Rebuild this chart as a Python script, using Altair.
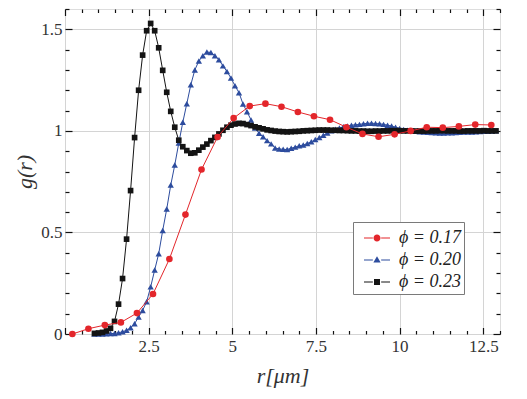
import altair as alt
import pandas as pd

# ---------------- data ----------------
r_dense = [round(0.04 + 0.12 * k, 2) for k in range(7, 108)]

g_black = [0.003, 0.005, 0.008, 0.015, 0.028,
           0.062, 0.147, 0.273, 0.467, 0.706, 0.967,
           1.20, 1.373, 1.493, 1.529, 1.493, 1.409,
           1.298, 1.19, 1.096, 1.018, 0.954, 0.922, 0.903, 0.89,
           0.892, 0.905, 0.92, 0.935, 0.952, 0.968, 0.985, 1.003, 1.018, 1.028,
           1.034, 1.037, 1.036, 1.031, 1.026, 1.02, 1.015, 1.01, 1.005, 1.002,
           0.999, 0.997, 0.996, 0.995, 0.996, 0.997, 0.998, 1.0, 1.001, 1.002, 1.003, 1.004, 1.004, 1.004,
           1.003, 1.003, 1.002, 1.002, 1.001, 1.0, 1.0, 0.999, 0.999, 0.998,
           0.998, 0.999, 0.999, 1.0, 1.0, 1.001, 1.001, 1.001, 1.0, 1.0,
           1.0, 0.999, 0.999, 0.999, 1.0, 1.0, 1.0, 1.001, 1.001, 1.0,
           1.0, 1.0, 0.999, 0.999, 1.0, 1.0, 1.0, 1.0, 1.001, 1.0,
           1.0, 1.0]

g_blue = [0.0, 0.0, 0.0,
          0.001, 0.002, 0.003, 0.006, 0.011, 0.018, 0.031, 0.051, 0.084, 0.116,
          0.159, 0.232, 0.315, 0.395, 0.51, 0.615, 0.733, 0.832, 0.94, 1.042,
          1.134, 1.227, 1.30, 1.344, 1.37, 1.388, 1.386, 1.37, 1.35, 1.32,
          1.292, 1.26, 1.222, 1.188, 1.132, 1.094, 1.054, 1.014, 0.988, 0.971,
          0.952, 0.936, 0.916, 0.911, 0.909, 0.908, 0.915, 0.92, 0.927, 0.93,
          0.938, 0.946, 0.957, 0.967, 0.978, 0.99, 1.0, 1.008, 1.014, 1.02,
          1.024, 1.028, 1.03, 1.032, 1.035, 1.037, 1.038, 1.036, 1.035, 1.032,
          1.028, 1.024, 1.018, 1.012, 1.007, 1.003, 1.0, 0.998, 0.996, 0.995,
          0.993, 0.992, 0.991, 0.99, 0.99, 0.991, 0.991, 0.992, 0.993, 0.994,
          0.995, 0.995, 0.996, 0.997, 0.998, 0.998, 0.999, 1.0]

r_red = [0.22, 0.70, 1.19, 1.67, 2.15, 2.63, 3.12, 3.60, 4.08, 4.56, 5.04, 5.52, 5.99,
         6.47, 6.96, 7.44, 7.92, 8.41, 8.89, 9.37, 9.85, 10.33, 10.81, 11.29, 11.77,
         12.26, 12.74]
g_red = [0.0, 0.026, 0.044, 0.057, 0.103, 0.197, 0.369, 0.588, 0.81, 0.97, 1.063,
         1.122, 1.134, 1.119, 1.093, 1.072, 1.055, 1.018, 0.985, 0.971, 0.983, 1.0,
         1.018, 1.016, 1.022, 1.031, 1.029]

series_labels = ["ϕ = 0.17", "ϕ = 0.20", "ϕ = 0.23"]
series_colors = ["#e3262b", "#2d4c9e", "#141414"]

x_ticks = [i * 0.5 for i in range(27)]
y_ticks = [round(i * 0.1, 1) for i in range(17)]

# ---------------- tables ----------------
df_red = pd.DataFrame({"r": r_red, "g": g_red, "series": series_labels[0]})
df_blue = pd.DataFrame({"r": r_dense, "g": g_blue, "series": series_labels[1]})
df_black = pd.DataFrame({"r": r_dense, "g": g_black, "series": series_labels[2]})

XS = alt.Scale(domain=[0, 13], nice=False, zero=False)
YS = alt.Scale(domain=[0, 1.6], nice=False, zero=False)

major_x = "abs(datum.value/2.5 - round(datum.value/2.5)) < 1e-6"
major_y = "abs(datum.value/0.5 - round(datum.value/0.5)) < 1e-6"

FONT = "Times New Roman, Liberation Serif, DejaVu Serif, serif"
TICKC = "#111111"
x_tick_size = {"condition": {"test": major_x, "value": -6.5}, "value": -3.5}
y_tick_size = {"condition": {"test": major_y, "value": -7}, "value": -4}

x_axis = alt.Axis(
    values=x_ticks, title="r[μm]", domain=False,
    labelExpr=f"({major_x}) && datum.value > 0 ? format(datum.value, '~g') : ''",
    tickSize=x_tick_size, tickColor=TICKC, tickWidth=1.2,
    grid=True, gridColor="#d4d4d4", gridWidth=1,
    gridOpacity={"condition": {"test": major_x, "value": 1}, "value": 0},
    labelFont=FONT, labelFontSize=17, labelColor="#333", labelPadding=10.5,
    labelFlush=False, labelOverlap=False,
    titleFont=FONT, titleFontSize=22, titleFontStyle="italic", titleFontWeight="normal",
    titleColor="#333", titlePadding=8,
)
y_axis = alt.Axis(
    values=y_ticks, title="g(r)", domain=False,
    labelExpr=f"({major_y}) ? format(datum.value, '~g') : ''",
    tickSize=y_tick_size, tickColor=TICKC, tickWidth=1.2,
    grid=True, gridColor="#d4d4d4", gridWidth=1,
    gridOpacity={"condition": {"test": major_y, "value": 1}, "value": 0},
    labelFont=FONT, labelFontSize=17, labelColor="#333", labelPadding=10,
    labelFlush=False, labelOverlap=False,
    titleFont=FONT, titleFontSize=22, titleFontStyle="italic", titleFontWeight="normal",
    titleColor="#333", titlePadding=4,
)
x_top = alt.Axis(values=x_ticks, orient="top", labels=False, grid=False, domain=False, title=None,
                 tickSize=x_tick_size, tickColor=TICKC, tickWidth=1.2)
y_right = alt.Axis(values=y_ticks, orient="right", labels=False, grid=False, domain=False, title=None,
                   tickSize=y_tick_size, tickColor=TICKC, tickWidth=1.2)

# mirror axes (top / right)
mirror = alt.Chart(df_red).transform_filter("false").mark_point(opacity=0).encode(
    x=alt.X("r:Q", scale=XS, axis=x_top),
    y=alt.Y("g:Q", scale=YS, axis=y_right),
)

def series_layers(df, color, shape, size, main=False):
    xa = x_axis if main else None
    ya = y_axis if main else None
    line = alt.Chart(df).mark_line(color=color, strokeWidth=1).encode(
        x=alt.X("r:Q", scale=XS, axis=xa),
        y=alt.Y("g:Q", scale=YS, axis=ya),
    )
    pts = alt.Chart(df).mark_point(shape=shape, filled=True, color=color, size=size, opacity=1).encode(
        x=alt.X("r:Q", scale=XS, axis=None),
        y=alt.Y("g:Q", scale=YS, axis=None),
    )
    return [line, pts]

# legend symbols: line with marker (custom paths in the [-1,1] box)
seg = "M-1,-0.04H-0.32V0.04H-1Z M0.32,-0.04H1V0.04H0.32Z "
legend_paths = [
    seg + "M-0.27,0A0.27,0.27,0,1,0,0.27,0A0.27,0.27,0,1,0,-0.27,0Z",
    seg + "M0,-0.28L0.28,0.2L-0.28,0.2Z",
    seg + "M-0.23,-0.23H0.23V0.23H-0.23Z",
]
leg = alt.Legend(
    title=None, orient="none", legendX=288, legendY=213,
    padding=3, symbolOffset=8, labelOffset=9, rowPadding=0,
    symbolSize=676, symbolStrokeWidth=0,
    strokeColor="#7a7a7a", fillColor="white",
    labelFont=FONT, labelFontSize=18, labelFontStyle="italic", labelColor="#222",
)
legend_layer = alt.Chart(df_red).transform_filter("false").mark_point(filled=True, opacity=1).encode(
    x=alt.X("r:Q", scale=XS, axis=None),
    y=alt.Y("g:Q", scale=YS, axis=None),
    color=alt.Color("series:N", scale=alt.Scale(domain=series_labels, range=series_colors), legend=leg),
    shape=alt.Shape("series:N", scale=alt.Scale(domain=series_labels, range=legend_paths), legend=leg),
)

layers = (
    series_layers(df_blue, series_colors[1], "triangle-up", 40, main=True)
    + series_layers(df_black, series_colors[2], "square", 32)
    + series_layers(df_red, series_colors[0], "circle", 44)
)

chart = alt.layer(mirror, *layers, legend_layer).resolve_axis(
    x="independent", y="independent"
).properties(
    width=435, height=325,
    autosize=alt.AutoSizeParams(type="none"),
    padding={"left": 57, "top": 1, "right": 10, "bottom": 57},
).configure_view(stroke="#111", strokeWidth=1.5).configure(background="white")

chart.save("out.html", embed_options={"renderer": "svg", "actions": False})
